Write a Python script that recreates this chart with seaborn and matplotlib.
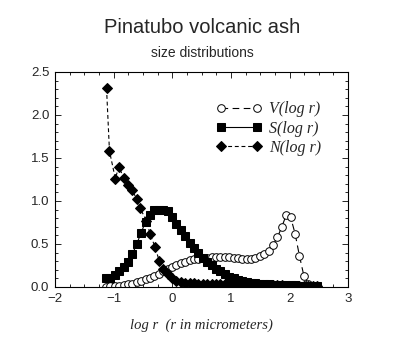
import numpy as np
import pandas as pd
import matplotlib
matplotlib.use("Agg")
import matplotlib.pyplot as plt
from matplotlib.ticker import MultipleLocator, FormatStrFormatter
import seaborn as sns

# ---- data ----
x_grid = [-1.13, -1.055, -0.98, -0.905, -0.83, -0.755, -0.68, -0.605, -0.53, -0.455,
          -0.38, -0.305, -0.23, -0.155, -0.08, -0.005, 0.07, 0.145, 0.22, 0.295,
          0.37, 0.445, 0.52, 0.595, 0.67, 0.745, 0.82, 0.895, 0.97, 1.045,
          1.12, 1.195, 1.27, 1.345, 1.42, 1.495, 1.57, 1.645, 1.72, 1.795,
          1.87, 1.945, 2.02, 2.095, 2.17, 2.245, 2.32, 2.395, 2.47]

s_vals = [0.11, 0.11, 0.14, 0.18, 0.23, 0.29, 0.38, 0.50, 0.63, 0.76,
          0.84, 0.89, 0.90, 0.90, 0.88, 0.81, 0.73, 0.66, 0.59, 0.51,
          0.45, 0.39, 0.34, 0.29, 0.25, 0.21, 0.18, 0.15, 0.12, 0.10,
          0.085, 0.07, 0.06, 0.05, 0.045, 0.04, 0.035, 0.03, 0.028, 0.026,
          0.024, 0.022, 0.02, 0.018, 0.016, 0.014, 0.012, 0.01, 0.008]

v_x = x_grid[:-1]
v_vals = [0.005, 0.007, 0.01, 0.015, 0.02, 0.03, 0.04, 0.055, 0.07, 0.09,
          0.11, 0.13, 0.155, 0.18, 0.21, 0.235, 0.26, 0.28, 0.295, 0.31,
          0.32, 0.33, 0.335, 0.34, 0.345, 0.35, 0.35, 0.35, 0.345, 0.34,
          0.335, 0.33, 0.33, 0.33, 0.34, 0.355, 0.38, 0.42, 0.49, 0.58,
          0.70, 0.84, 0.81, 0.62, 0.36, 0.13, 0.03, 0.01]

n_x = [-1.12, -1.07, -0.97, -0.91, -0.83, -0.75, -0.69, -0.60, -0.55, -0.44,
       -0.38, -0.29, -0.22, -0.15, -0.08, 0.00, 0.07, 0.145, 0.22, 0.295,
       0.37, 0.445, 0.52, 0.595, 0.67, 0.745, 0.82, 0.895, 0.97, 1.045,
       1.12, 1.195, 1.27, 1.345, 1.42, 1.495, 1.57, 1.645, 1.72, 1.795,
       1.87, 1.945, 2.02, 2.095, 2.17, 2.245, 2.32, 2.395, 2.47]
n_vals = [2.31, 1.58, 1.26, 1.40, 1.27, 1.18, 1.13, 1.02, 0.92, 0.77,
          0.62, 0.46, 0.30, 0.21, 0.155, 0.10, 0.075, 0.06, 0.05, 0.045,
          0.042, 0.04, 0.038, 0.036, 0.034, 0.032, 0.03, 0.029, 0.028, 0.027,
          0.026, 0.025, 0.024, 0.023, 0.022, 0.021, 0.02, 0.02, 0.019, 0.018,
          0.018, 0.017, 0.017, 0.016, 0.016, 0.015, 0.015, 0.014, 0.014]

labels = ["V(log r)", "S(log r)", "N(log r)"]
x_ticks = [-2, -1, 0, 1, 2, 3]
x_tick_labels = ["\u22122", "\u22121", "0", "1", "2", "3"]
y_ticks = [0.0, 0.5, 1.0, 1.5, 2.0, 2.5]

# ---- plot ----
sns.set_style("ticks")
plt.rcParams["font.family"] = ["Liberation Sans", "DejaVu Sans"]

fig = plt.figure(figsize=(4.13, 3.38), dpi=100)
ax = fig.add_axes([0.133, 0.151, 0.710, 0.636])

dfv = pd.DataFrame({"x": v_x, "y": v_vals})
dfs = pd.DataFrame({"x": x_grid, "y": s_vals})
dfn = pd.DataFrame({"x": n_x, "y": n_vals})

sns.lineplot(data=dfv, x="x", y="y", ax=ax, color="black", lw=0.8,
             marker="o", markersize=5.5, markerfacecolor="white",
             markeredgecolor="black", markeredgewidth=0.7,
             label=labels[0], sort=False)
ax.lines[-1].set_dashes([6, 4])
sns.lineplot(data=dfs, x="x", y="y", ax=ax, color="black", lw=0.8,
             marker="s", markersize=5.5, markeredgecolor="black",
             label=labels[1], sort=False)
sns.lineplot(data=dfn, x="x", y="y", ax=ax, color="black", lw=0.8,
             marker="D", markersize=4.8, markeredgecolor="black",
             label=labels[2], sort=False)
ax.lines[-1].set_dashes([3.5, 2.5])

ax.set_xlim(-2, 3)
ax.set_ylim(0, 2.5)
ax.set_xticks(x_ticks)
ax.set_xticklabels(x_tick_labels)
ax.set_yticks(y_ticks)
ax.yaxis.set_major_formatter(FormatStrFormatter("%.1f"))
ax.xaxis.set_minor_locator(MultipleLocator(0.25))
ax.yaxis.set_minor_locator(MultipleLocator(0.1))
ax.tick_params(which="both", direction="in", top=True, right=True,
               labelsize=9.5, width=0.7, pad=4)
ax.tick_params(which="major", length=4.5)
ax.tick_params(which="minor", length=2.5)
for sp in ax.spines.values():
    sp.set_linewidth(0.8)
    sp.set_color("black")

ax.set_xlabel("log r  (r in micrometers)", fontsize=10.5,
              fontfamily="Liberation Serif", fontstyle="italic", labelpad=10)
ax.set_ylabel("")

leg = ax.legend(loc="upper left", bbox_to_anchor=(0.5, 0.93), frameon=False,
                numpoints=2, handlelength=2.9, handletextpad=0.4,
                labelspacing=0.2,
                prop={"family": "Liberation Serif", "style": "italic",
                      "size": 11.5})

fig.text(0.49, 0.918, "Pinatubo volcanic ash", ha="center", va="center",
         fontsize=14.5)
fig.text(0.49, 0.843, "size distributions", ha="center", va="center",
         fontsize=10)

fig.savefig("out.png", dpi=100)
